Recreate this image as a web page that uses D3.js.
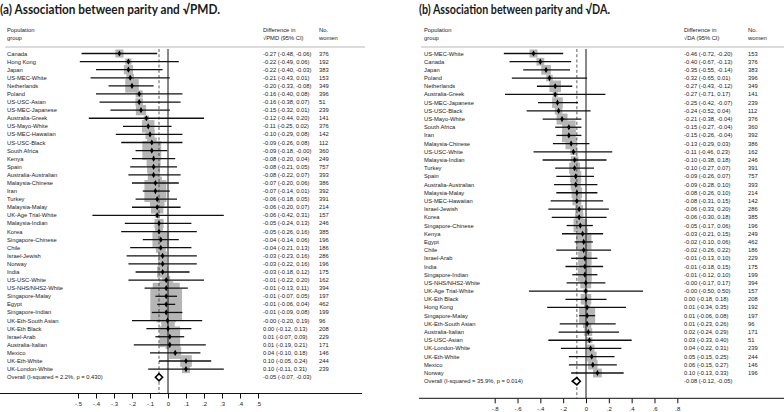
<!DOCTYPE html>
<html><head><meta charset="utf-8">
<script src="https://cdn.jsdelivr.net/npm/d3@7"></script>
<style>
body{margin:0;background:#fff}
svg{display:block}
text{font-family:"Liberation Sans",Arial,sans-serif;fill:#1a1a1a}
</style>
</head><body><svg id="chart" width="784" height="412"></svg>
<script>
// ---------- Panel (a): sqrt PMD ----------
const groupsA = ["Canada","Hong Kong","Japan","US-MEC-White","Netherlands","Poland","US-USC-Asian","US-MEC-Japanese","Australia-Greek","US-Mayo-White","US-MEC-Hawaiian","US-USC-Black","South Africa","Kenya","Spain","Australia-Australian","Malaysia-Chinese","Iran","Turkey","Malaysia-Malay","UK-Age Trial-White","Malaysia-Indian","Korea","Singapore-Chinese","Chile","Israel-Jewish","Norway","India","US-USC-White","US-NHS/NHS2-White","Singapore-Malay","Egypt","Singapore-Indian","UK-Eth-South Asian","UK-Eth Black","Israel-Arab","Australia-Italian","Mexico","UK-Eth-White","UK-London-White"];
const estA = [-0.27,-0.22,-0.22,-0.21,-0.20,-0.16,-0.16,-0.15,-0.12,-0.11,-0.10,-0.09,-0.09,-0.08,-0.08,-0.08,-0.07,-0.07,-0.06,-0.06,-0.06,-0.05,-0.05,-0.04,-0.04,-0.03,-0.03,-0.03,-0.01,-0.01,-0.01,-0.01,-0.01,-0.003,0.00,0.01,0.01,0.04,0.10,0.10];
const lowA = [-0.48,-0.49,-0.40,-0.43,-0.33,-0.40,-0.38,-0.32,-0.44,-0.25,-0.29,-0.26,-0.18,-0.20,-0.21,-0.22,-0.20,-0.14,-0.18,-0.20,-0.42,-0.24,-0.26,-0.14,-0.21,-0.23,-0.22,-0.18,-0.22,-0.13,-0.07,-0.06,-0.09,-0.20,-0.12,-0.07,-0.19,-0.10,-0.05,-0.11];
const highA = [-0.06,0.06,-0.03,0.01,-0.08,0.08,0.07,0.01,0.20,0.02,0.08,0.08,-0.004,0.04,0.05,0.07,0.06,0.01,0.05,0.07,0.31,0.13,0.16,0.06,0.13,0.16,0.16,0.12,0.20,0.11,0.05,0.04,0.08,0.19,0.13,0.09,0.21,0.18,0.24,0.31];
const nA = [376,192,383,153,349,396,51,239,141,376,142,112,360,249,757,393,386,392,391,214,157,246,385,196,186,286,196,175,162,394,197,462,199,96,208,229,171,146,244,239];
const overallA = [-0.05,-0.07,-0.03];
const hetA = "Overall  (I-squared = 2.2%, p = 0.430)";
const ticksA = [-0.5,-0.4,-0.3,-0.2,-0.1,0,0.1,0.2,0.3,0.4,0.5];

// ---------- Panel (b): sqrt DA ----------
const groupsB = ["US-MEC-White","Canada","Japan","Poland","Netherlands","Australia-Greek","US-MEC-Japanese","US-USC-Black","US-Mayo-White","South Africa","Iran","Malaysia-Chinese","US-USC-White","Malaysia-Indian","Turkey","Spain","Australia-Australian","Malaysia-Malay","US-MEC-Hawaiian","Israel-Jewish","Korea","Singapore-Chinese","Kenya","Egypt","Chile","Israel-Arab","India","Singapore-Indian","US-NHS/NHS2-White","UK-Age Trial-White","UK-Eth Black","Hong Kong","Singapore-Malay","UK-Eth-South Asian","Australia-Italian","US-USC-Asian","UK-London-White","UK-Eth-White","Mexico","Norway"];
const estB = [-0.46,-0.40,-0.35,-0.32,-0.27,-0.27,-0.25,-0.24,-0.21,-0.15,-0.15,-0.13,-0.11,-0.10,-0.10,-0.09,-0.09,-0.08,-0.08,-0.06,-0.06,-0.05,-0.03,-0.02,-0.02,-0.01,-0.01,-0.01,-0.002,-0.003,0.00,0.01,0.01,0.01,0.02,0.03,0.04,0.05,0.06,0.10];
const lowB = [-0.72,-0.67,-0.55,-0.65,-0.43,-0.71,-0.42,-0.52,-0.38,-0.27,-0.26,-0.29,-0.46,-0.38,-0.27,-0.26,-0.28,-0.26,-0.31,-0.33,-0.30,-0.17,-0.21,-0.10,-0.26,-0.13,-0.18,-0.12,-0.17,-0.50,-0.18,-0.34,-0.06,-0.23,-0.24,-0.33,-0.22,-0.15,-0.15,-0.13];
const highB = [-0.20,-0.13,-0.14,0.01,-0.12,0.17,-0.07,0.04,-0.04,-0.04,-0.04,0.03,0.23,0.18,0.07,0.07,0.10,0.10,0.15,0.20,0.18,0.06,0.15,0.06,0.22,0.10,0.15,0.10,0.17,0.50,0.18,0.35,0.08,0.26,0.29,0.40,0.31,0.25,0.27,0.33];
const nB = [153,376,383,396,349,141,239,112,376,360,392,386,162,246,391,757,393,214,142,286,385,196,249,462,186,229,175,199,394,157,208,192,197,96,171,51,239,244,146,196];
const overallB = [-0.08,-0.12,-0.05];
const hetB = "Overall  (I-squared = 35.9%, p = 0.014)";
const ticksB = [-0.8,-0.6,-0.4,-0.2,0,0.2,0.4,0.6,0.8];

const svg = d3.select("#chart");

function fmtTick(d){
  if (Math.abs(d) < 1e-9) return "0";
  return (d < 0 ? "-" : "") + Math.abs(d).toFixed(1).replace(/^0/, "");
}
function f2(v){ return v.toFixed(2); }

function drawPanel(o){
  const g = svg.append("g");
  const x = d3.scaleLinear().domain(o.xDomain).range(o.xRange);
  const rows = o.labels.map((l,i)=>({label:l, est:o.est[i], lo:o.lo[i], hi:o.hi[i], n:o.n[i], i:i}));
  const y = d3.scalePoint().domain(d3.range(rows.length + 1)).range([o.y0, o.y1]);
  const yO = y(rows.length);

  // Title
  g.append("text").attr("x", o.titleX).attr("y", 14)
    .attr("font-family","Lato, 'Open Sans', sans-serif").style("font-family","Lato, 'Open Sans', sans-serif")
    .attr("font-weight","bold").attr("font-size",13.5)
    .attr("textLength", o.titleW).attr("lengthAdjust","spacingAndGlyphs")
    .text(o.title);

  // Headers
  const hfs = 5.8;
  const hdr = [[o.popX,"Population","group"],[o.colX,"Difference in", o.measure + " (95% CI)"],[o.nX,"No.","women"]];
  hdr.forEach(h=>{
    g.append("text").attr("x",h[0]).attr("y",32).attr("font-size",hfs).text(h[1]);
    g.append("text").attr("x",h[0]).attr("y",40).attr("font-size",hfs).text(h[2]);
  });
  g.append("line").attr("x1",o.hdrX0).attr("x2",o.hdrX1).attr("y1",47).attr("y2",47)
    .attr("stroke","#8a8a8a").attr("stroke-width",0.6);

  // Weighted boxes
  g.append("g").selectAll("rect").data(rows).join("rect")
    .each(function(d){
      const se = (d.hi - d.lo) / 3.92;
      const s = o.boxC / Math.sqrt(se*se + o.tau2);
      d3.select(this).attr("x", x(d.est) - s/2).attr("y", y(d.i) - s/2)
        .attr("width", s).attr("height", s);
    })
    .attr("fill","#b5b5b5");

  // Reference lines
  g.append("line").attr("x1",x(0)).attr("x2",x(0)).attr("y1",49).attr("y2",o.axisY)
    .attr("stroke","#111").attr("stroke-width",1);
  g.append("line").attr("x1",x(o.overall[0])).attr("x2",x(o.overall[0])).attr("y1",49).attr("y2",o.axisY)
    .attr("stroke","#333").attr("stroke-width",0.8).attr("stroke-dasharray","3,2.2");

  // CI lines
  g.append("g").selectAll("line").data(rows).join("line")
    .attr("x1",d=>x(d.lo)).attr("x2",d=>x(d.hi))
    .attr("y1",d=>y(d.i)).attr("y2",d=>y(d.i))
    .attr("stroke","#111").attr("stroke-width",1.3);

  // Point estimates
  g.append("g").selectAll("path").data(rows).join("path")
    .attr("d", d3.symbol(d3.symbolDiamond, 11)())
    .attr("transform", d=>`translate(${x(d.est)},${y(d.i)})`)
    .attr("fill","#000");

  // Overall diamond
  const [oe, ol, oh] = o.overall;
  g.append("path")
    .attr("d", `M${x(ol)},${yO}L${x(oe)},${yO-3.6}L${x(oh)},${yO}L${x(oe)},${yO+3.6}Z`)
    .attr("fill","#fff").attr("stroke","#000").attr("stroke-width",1.6);

  // Row text
  const fs = 5.8;
  const rt = g.append("g");
  rt.selectAll("text.lab").data(rows).join("text").attr("class","lab")
    .attr("x",o.popX).attr("y",d=>y(d.i)+2).attr("font-size",fs).text(d=>d.label);
  rt.selectAll("text.ci").data(rows).join("text").attr("class","ci")
    .attr("x",o.colX).attr("y",d=>y(d.i)+2).attr("font-size",fs)
    .text(d=>`${f2(d.est)} (${f2(d.lo)}, ${f2(d.hi)})`);
  rt.selectAll("text.n").data(rows).join("text").attr("class","n")
    .attr("x",o.nX).attr("y",d=>y(d.i)+2).attr("font-size",fs).text(d=>d.n);
  rt.append("text").attr("x",o.popX).attr("y",yO+2).attr("font-size",fs).text(o.het);
  rt.append("text").attr("x",o.colX).attr("y",yO+2).attr("font-size",fs)
    .text(`${f2(oe)} (${f2(ol)}, ${f2(oh)})`);

  // Axis
  const ax = g.append("g").attr("transform",`translate(0,${o.axisY})`)
    .call(d3.axisBottom(x).tickValues(o.ticks).tickSize(5).tickFormat(fmtTick));
  ax.select(".domain").remove();
  ax.selectAll(".tick line").attr("stroke","#111").attr("stroke-width",1);
  ax.selectAll(".tick text").attr("font-size",6).attr("font-family","'Liberation Sans', Arial, sans-serif")
    .attr("fill","#1a1a1a").attr("y", o.tickLabY);
  g.append("line").attr("x1",o.axX0).attr("x2",o.axX1).attr("y1",o.axisY).attr("y2",o.axisY)
    .attr("stroke","#111").attr("stroke-width",1);
}

drawPanel({
  labels: groupsA, est: estA, lo: lowA, hi: highA, n: nA, overall: overallA, het: hetA,
  xDomain: [-0.5, 0.5], xRange: [78, 258], y0: 53.5, y1: 377.2,
  title: "(a) Association between parity and \u221APMD.", titleX: 0, titleW: 220,
  measure: "\u221APMD", popX: 7, colX: 263, nX: 319, hdrX0: 5, hdrX1: 365,
  axisY: 393.5, axX0: 0, axX1: 362, ticks: ticksA, tickLabY: 8,
  boxC: 0.87, tau2: 0.0001
});
drawPanel({
  labels: groupsB, est: estB, lo: lowB, hi: highB, n: nB, overall: overallB, het: hetB,
  xDomain: [-0.8, 0.8], xRange: [494.7, 677.3], y0: 53.5, y1: 381.2,
  title: "(b) Association between parity and \u221ADA.", titleX: 419, titleW: 191,
  measure: "\u221ADA", popX: 424, colX: 684, nX: 748, hdrX0: 421, hdrX1: 784,
  axisY: 398.3, axX0: 419, axX1: 784, ticks: ticksB, tickLabY: 8.5,
  boxC: 1.18, tau2: 0.00416
});
</script>
</body></html>
